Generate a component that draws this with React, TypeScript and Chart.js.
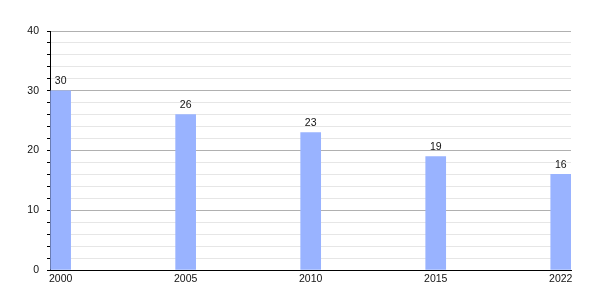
import React, { useEffect, useRef } from "react";
import { Chart, registerables } from "chart.js";

Chart.register(...registerables);

const categories = ["2000", "2005", "2010", "2015", "2022"];
const values = [30, 26, 23, 19, 16];
const yTickLabels = [0, 10, 20, 30, 40];

const FONT = "'Liberation Sans', Arial, sans-serif";
const TEXT = "#111";

const valueLabels = {
  id: "valueLabels",
  afterDatasetsDraw(chart: any) {
    const ctx = chart.ctx;
    const meta = chart.getDatasetMeta(0);
    ctx.save();
    ctx.font = `10.5px ${FONT}`;
    ctx.fillStyle = TEXT;
    ctx.textAlign = "center";
    ctx.textBaseline = "bottom";
    meta.data.forEach((bar: any, i: number) => {
      ctx.fillText(String(values[i]), bar.x, bar.y - 4);
    });
    ctx.restore();
  },
};

export default function App() {
  const ref = useRef<HTMLCanvasElement | null>(null);
  useEffect(() => {
    if (!ref.current) return;
    const chart = new Chart(ref.current, {
      type: "bar",
      data: {
        datasets: [
          {
            data: values.map((v, i) => ({ x: i, y: v })),
            backgroundColor: "#99b3ff",
            barThickness: 20,
          },
        ],
      },
      options: {
        animation: false,
        responsive: false,
        layout: { padding: { left: 0, top: 31, right: 29, bottom: 0 } },
        plugins: { legend: { display: false }, tooltip: { enabled: false } },
        scales: {
          x: {
            type: "linear",
            offset: false,
            min: -0.085,
            max: categories.length - 1 + 0.082,
            afterBuildTicks: (scale: any) => {
              scale.ticks = categories.map((_, i) => ({ value: i }));
            },
            afterFit: (scale: any) => {
              scale.height = 30;
            },
            grid: { display: false, drawTicks: false },
            border: { color: "#000", width: 1 },
            ticks: {
              padding: 3,
              color: TEXT,
              font: { family: FONT, size: 10.5 },
              maxRotation: 0,
              autoSkip: false,
              callback: (v: any) => categories[Math.round(Number(v))] ?? "",
            },
          },
          y: {
            min: 0,
            max: 40,
            afterFit: (scale: any) => {
              scale.width = 50;
            },
            afterBuildTicks: (scale: any) => {
              const t: any[] = [];
              for (let v = 0; v <= 40; v += 2) t.push({ value: v });
              scale.ticks = t;
            },
            border: { color: "#000", width: 1 },
            grid: {
              color: (c: any) =>
                c.tick && yTickLabels.includes(c.tick.value) ? "#b0b0b0" : "#e6e6e6",
              tickColor: "#000",
              tickLength: 3,
            },
            ticks: {
              padding: 8,
              color: TEXT,
              font: { family: FONT, size: 10.5 },
              autoSkip: false,
              callback: (v: any) => (yTickLabels.includes(Number(v)) ? String(v) : ""),
            },
          },
        },
      },
      plugins: [valueLabels],
    });
    return () => chart.destroy();
  }, []);
  return (
    <div style={{ position: "fixed", left: 0, top: 0, width: 600, height: 300, background: "#fff" }}>
      <canvas ref={ref} width={600} height={300} style={{ width: 600, height: 300 }} />
    </div>
  );
}
